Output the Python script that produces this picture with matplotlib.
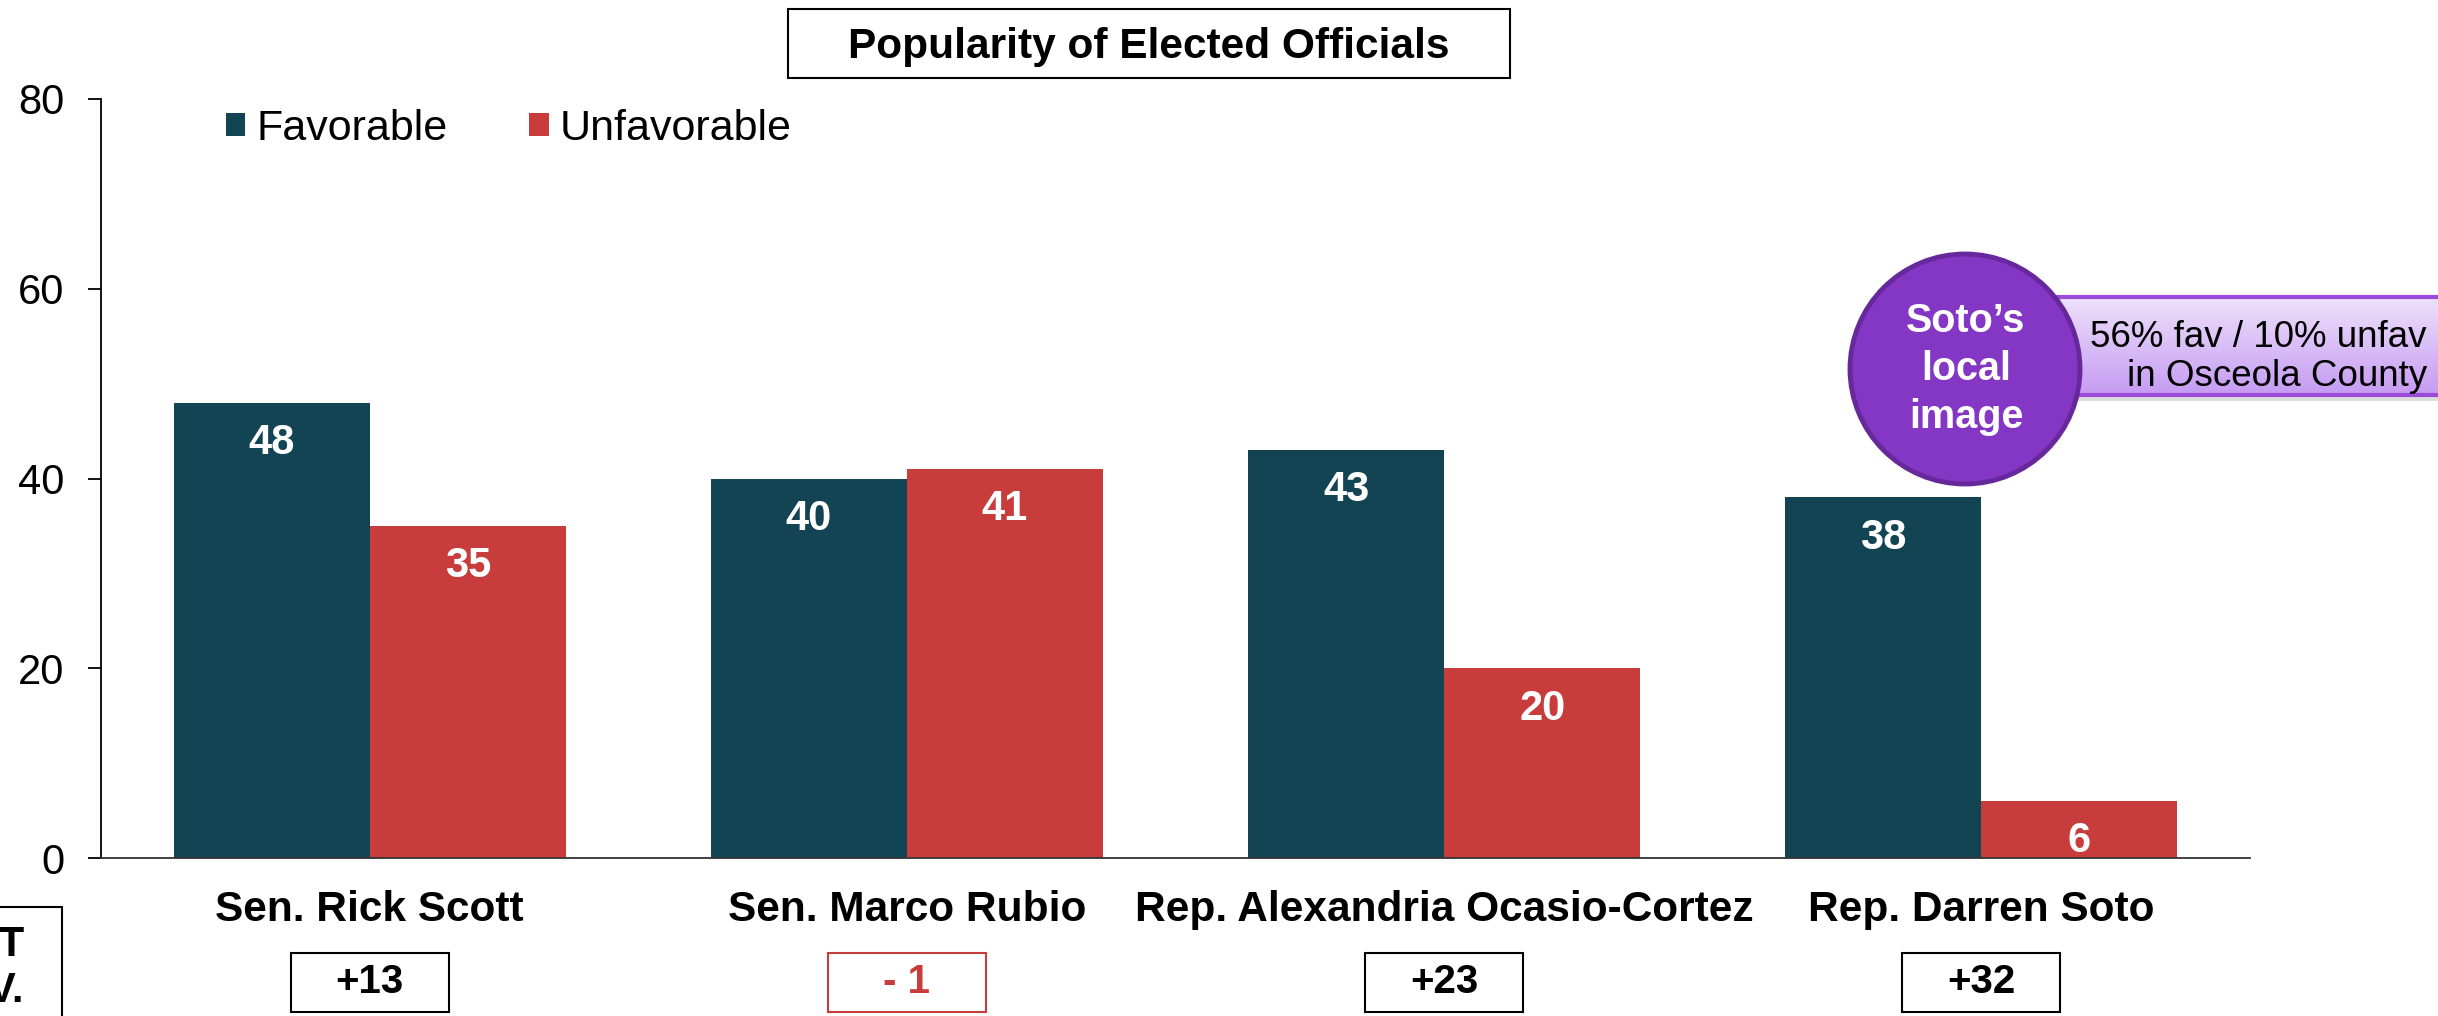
import numpy as np
import matplotlib
matplotlib.use("Agg")
import matplotlib.pyplot as plt
import matplotlib.patches as mpatches
import matplotlib.transforms as mtransforms
from matplotlib.colors import LinearSegmentedColormap

plt.rcParams['font.family'] = ['Liberation Sans', 'DejaVu Sans']

# data
officials = ["Sen. Rick Scott", "Sen. Marco Rubio",
             "Rep. Alexandria Ocasio-Cortez", "Rep. Darren Soto"]
favorable = [48, 40, 43, 38]
unfavorable = [35, 41, 20, 6]
series_names = ["Favorable", "Unfavorable"]
title = "Popularity of Elected Officials"
circle_text = "Soto\u2019s\nlocal\nimage"
callout_text = "56% fav / 10% unfav\nin Osceola County"

FAV_C = "#134453"
UNFAV_C = "#C93C3C"

W, H = 2438, 1016


# pixel (top-left origin) -> figure fraction
def fx(x):
    return x / W


def fy(y):
    return 1 - y / H


fig = plt.figure(figsize=(W / 100, H / 100), dpi=100)
ax = fig.add_axes([fx(101), fy(858), fx(2250) - fx(101), fy(99) - fy(858)])
ax.set_facecolor("none")

x = np.arange(len(officials))
bw = 0.365
b1 = ax.bar(x - bw / 2, favorable, bw, color=FAV_C, label=series_names[0])
b2 = ax.bar(x + bw / 2, unfavorable, bw, color=UNFAV_C, label=series_names[1])

for bars in (b1, b2):
    for r in bars:
        ax.annotate(f"{r.get_height():.0f}", (r.get_x() + r.get_width() / 2, r.get_height()),
                    xytext=(0, -29), textcoords="offset points", ha="center", va="center",
                    color="white", fontsize=30, fontweight="bold")

ax.set_xlim(-0.5, len(officials) - 0.5)
ax.set_ylim(0, 80)
ax.set_yticks([0, 20, 40, 60, 80])
ax.tick_params(axis="y", length=9.5, width=1.3, pad=17, labelsize=30)
ax.set_xticks(x)
ax.set_xticklabels(officials, fontsize=30.5, fontweight="bold")
ax.tick_params(axis="x", length=0, pad=23)
for s in ("top", "right"):
    ax.spines[s].set_visible(False)
ax.spines["left"].set_linewidth(1.3)
ax.spines["bottom"].set_linewidth(1.3)
ax.spines["bottom"].set_color("#333333")

ax.legend(loc="upper left", bbox_to_anchor=(fx(226), fy(109)), bbox_transform=fig.transFigure,
          ncol=2, frameon=False, fontsize=31, handlelength=0.45, handleheight=0.45,
          handletextpad=0.25, columnspacing=1.9, borderaxespad=0, borderpad=0)

# net boxes under each category
trans = mtransforms.blended_transform_factory(ax.transData, fig.transFigure)
box_w = 158 / (2149 / len(officials))
for i, (f, u) in enumerate(zip(favorable, unfavorable)):
    net = f - u
    col = "black" if net >= 0 else UNFAV_C
    lab = f"+{net}" if net >= 0 else f"- {abs(net)}"
    fig.add_artist(mpatches.Rectangle((i - box_w / 2, fy(1012)), box_w, fy(953) - fy(1012),
                                      transform=trans, fill=False, ec=col, lw=1.5))
    fig.text(i, fy(982), lab, transform=trans, ha="center", va="center",
             fontsize=29, fontweight="bold", color=col)

# cut-off NET FAV. box on the left
fig.add_artist(mpatches.Rectangle((fx(-20), fy(1030)), fx(82), fy(907) - fy(1030),
                                  fill=False, ec="black", lw=1.5))
fig.text(fx(24), fy(968), "NET\nFAV.", ha="right", va="center", multialignment="right",
         fontsize=30, fontweight="bold", linespacing=1.2)

# title box
fig.add_artist(mpatches.Rectangle((fx(788), fy(78)), fx(1510) - fx(788), fy(9) - fy(78),
                                  fill=False, ec="black", lw=1.5))
fig.text(fx(1149), fy(47), title, ha="center", va="center", fontsize=30.5, fontweight="bold")

# callout box with gradient
fig.add_artist(mpatches.Rectangle((fx(2058), fy(401)), 1, fy(395) - fy(401),
                                  fc="#AAAAAA", ec="none", alpha=0.4, zorder=-1))
cax = fig.add_axes([fx(2053), fy(395), 1 - fx(2053) + 0.02, fy(297) - fy(395)])
grad_cmap = LinearSegmentedColormap.from_list("lav", ["#C69BF2", "#EEE2FB"])
cax.imshow(np.linspace(0, 1, 100).reshape(-1, 1), aspect="auto", cmap=grad_cmap,
           extent=[0, 1, 0, 1], origin="lower")
cax.axis("off")
cax.add_patch(mpatches.Rectangle((0, 0), 1, 1, transform=cax.transAxes, fill=False,
                                 ec="#9A4CD8", lw=3, clip_on=False))
fig.text(fx(2427), fy(357), callout_text, ha="right", va="center", multialignment="right",
         fontsize=26.5, linespacing=1.15, zorder=4)

# purple circle
circ = mpatches.Circle((19.65, (H - 369) / 100), 1.15, transform=fig.dpi_scale_trans,
                       fc="#8437C5", ec="#66289A", lw=3.5, zorder=5)
fig.add_artist(circ)
fig.text(fx(1966), fy(369), circle_text, ha="center", va="center", color="white",
         fontsize=28.5, fontweight="bold", linespacing=1.33, zorder=6)

fig.savefig("out.png", dpi=100)
